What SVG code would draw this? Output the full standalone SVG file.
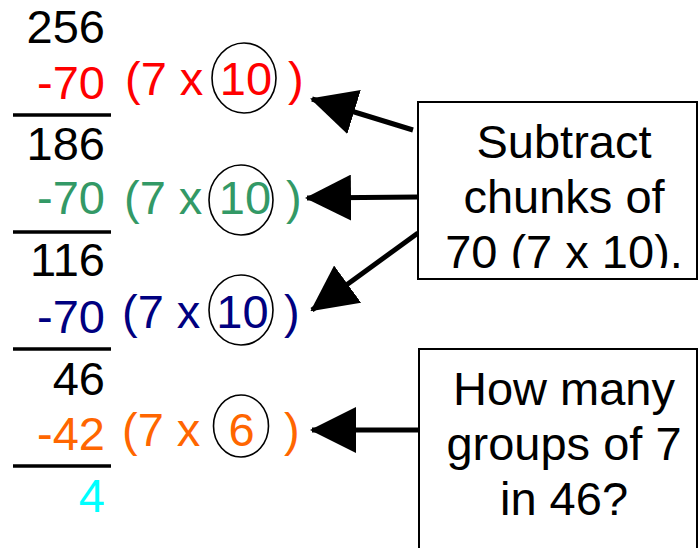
<svg xmlns="http://www.w3.org/2000/svg" width="700" height="548" viewBox="0 0 700 548">
<style>
text{font-family:"Liberation Sans",Arial,sans-serif}
.n{font-size:47px;text-anchor:end}
.p{font-size:47px}
.c{font-size:47px;text-anchor:middle}
.b{font-size:47px;text-anchor:middle;fill:#000}
.rule{stroke:#000;stroke-width:3.5}
.ring{fill:none;stroke:#000;stroke-width:1.6}
.box{fill:#fff;stroke:#000;stroke-width:2}
.con{stroke:#000;stroke-width:5;fill:none;marker-end:url(#ah)}
</style>
<defs>
<marker id="ah" viewBox="0 0 46 46" refX="44" refY="23" markerWidth="46" markerHeight="46" markerUnits="userSpaceOnUse" orient="auto">
<path d="M0,0 L46,23 L0,46 z" fill="#000"/>
</marker>
<clipPath id="cut"><rect x="418" y="102" width="279" height="166"/></clipPath>
</defs>
<rect width="700" height="548" fill="#fff"/>
<g id="column">
<text class="n" x="105" y="43" fill="#000">256</text>
<text class="n" x="105" y="98.5" fill="#ff0000">-70</text>
<line class="rule" x1="13" y1="115" x2="111" y2="115"/>
<text class="n" x="105" y="160" fill="#000">186</text>
<text class="n" x="105" y="214" fill="#339966">-70</text>
<line class="rule" x1="13" y1="232" x2="111" y2="232"/>
<text class="n" x="105" y="276" fill="#000">116</text>
<text class="n" x="105" y="333" fill="#000080">-70</text>
<line class="rule" x1="13" y1="349" x2="111" y2="349"/>
<text class="n" x="105" y="395" fill="#000">46</text>
<text class="n" x="105" y="450" fill="#ff6600">-42</text>
<line class="rule" x1="13" y1="466" x2="111" y2="466"/>
<text class="n" x="105" y="512" fill="#00ffff">4</text>
</g>
<g id="chunk1" fill="#ff0000">
<text class="p" x="125" y="95">(7 x</text>
<ellipse class="ring" cx="244" cy="78" rx="32" ry="35"/>
<text class="c" x="246" y="95">10</text>
<text class="p" x="288" y="95">)</text>
</g>
<g id="chunk2" fill="#339966">
<text class="p" x="124" y="214">(7 x</text>
<ellipse class="ring" cx="241" cy="200" rx="32" ry="35"/>
<text class="c" x="245" y="214">10</text>
<text class="p" x="286" y="214">)</text>
</g>
<g id="chunk3" fill="#000080">
<text class="p" x="122" y="328">(7 x</text>
<ellipse class="ring" cx="241" cy="310" rx="32" ry="35"/>
<text class="c" x="242.5" y="328">10</text>
<text class="p" x="284" y="328">)</text>
</g>
<g id="chunk4" fill="#ff6600">
<text class="p" x="122" y="446">(7 x</text>
<ellipse class="ring" cx="241" cy="426" rx="27.5" ry="31"/>
<text class="c" x="241.5" y="446">6</text>
<text class="p" x="284" y="446">)</text>
</g>
<g id="connectors">
<line class="con" x1="413" y1="130" x2="312" y2="99"/>
<line class="con" x1="419" y1="197" x2="307" y2="198"/>
<line class="con" x1="418" y1="233" x2="312" y2="310"/>
<line class="con" x1="419" y1="430" x2="312" y2="430"/>
</g>
<g id="note1">
<rect class="box" x="418" y="102" width="279" height="177"/>
<text class="b" x="564" y="158">Subtract</text>
<text class="b" x="564" y="213">chunks of</text>
<text class="b" x="564" y="268" clip-path="url(#cut)">70 (7 x 10).</text>
</g>
<g id="note2">
<rect class="box" x="419" y="349" width="278" height="210"/>
<text class="b" x="564" y="405">How many</text>
<text class="b" x="564" y="460">groups of 7</text>
<text class="b" x="564" y="515">in 46?</text>
</g>
</svg>
